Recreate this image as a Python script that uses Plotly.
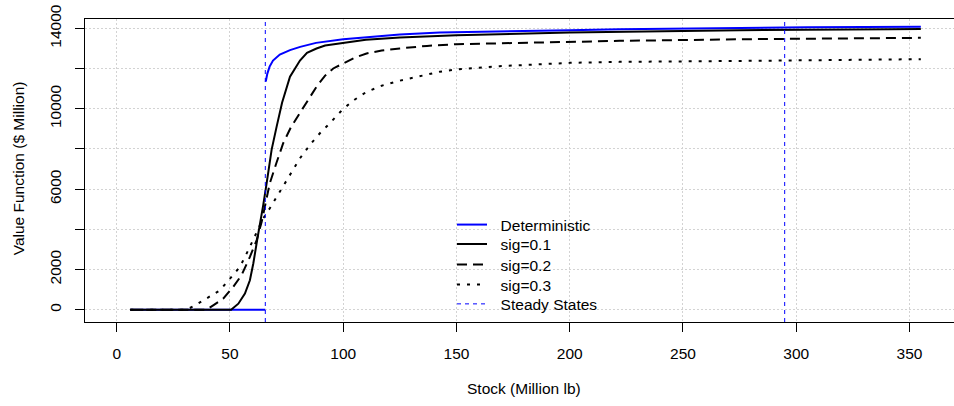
import plotly.graph_objects as go

# ---------------- data ----------------
stock_det = [6, 65.6, None, 65.8, 66.5, 67.5, 69, 72, 76.5, 81, 88, 100, 113, 125,
             142.6, 150, 175, 200, 222, 252, 305, 355]
value_det = [0, 0, None, 11350, 11750, 12100, 12400, 12700, 12920, 13080, 13280, 13460,
             13590, 13700, 13790, 13810, 13870, 13910, 13960, 14000, 14060, 14080]

stock_s1 = [6, 50.5, 53.7, 56.6, 58.8, 60.3, 62.0, 63.5, 64.7, 66.2, 68.4, 70.6, 73,
            76.5, 80.9, 84, 88.2, 92, 100, 110, 125, 150, 200, 232, 275, 341, 355]
value_s1 = [0, 0, 300, 800, 1465, 2300, 3465, 4380, 5215, 6300, 7965, 9110, 10300,
            11597, 12400, 12780, 13000, 13150, 13290, 13430, 13550, 13664, 13798, 13863,
            13913, 13963, 13966]

stock_s2 = [6, 39.7, 42.6, 47.0, 51.4, 55.1, 58.8, 61.8, 64.0, 65.4, 67.6, 70.5, 73.5,
            77, 81, 85, 88.5, 92, 95.6, 100, 105, 110.3, 117, 125, 137, 150, 200, 222,
            279.5, 355]
value_s2 = [0, 0, 215, 550, 1130, 1715, 2630, 3465, 4380, 5135, 6300, 7300, 8285,
            9100, 9800, 10500, 11150, 11650, 12006, 12255, 12540, 12753, 12900, 13002,
            13130, 13215, 13330, 13380, 13464, 13530]

stock_s3 = [6, 30.9, 35.3, 41.2, 45.6, 50.0, 54.4, 58.1, 61.8, 64.7, 67.6, 72.0, 76.5,
            81, 86, 90, 94.1, 100, 105, 110.3, 117, 125, 135, 142.6, 150, 169, 200, 222,
            279.5, 355]
value_s3 = [0, 0, 265, 665, 965, 1550, 2130, 2965, 3880, 4550, 5050, 5880, 6750,
            7550, 8300, 8820, 9280, 10000, 10450, 10841, 11150, 11400, 11650, 11845,
            11956, 12120, 12285, 12335, 12385, 12469]

steady_states = [65.6, 294.9]

x_ticks = [0, 50, 100, 150, 200, 250, 300, 350]
y_ticks = [0, 2000, 4000, 6000, 8000, 10000, 12000, 14000]
y_tick_labels = ["0", "2000", "", "6000", "", "10000", "", "14000"]

legend_labels = ["Deterministic", "sig=0.1", "sig=0.2", "sig=0.3", "Steady States"]

x_range = [-14.0, 369.65]
y_range = [-612, 14468]

# ---------------- figure ----------------
FONT = "Liberation Sans, Arial, sans-serif"
FS = 15.5
pad = "\u00a0\u00a0"

fig = go.Figure()
fig.add_trace(go.Scatter(x=stock_det, y=value_det, mode="lines", name=pad + legend_labels[0],
                         line=dict(color="#0000FF", width=2), connectgaps=False, legend="legend"))
fig.add_trace(go.Scatter(x=stock_s1, y=value_s1, mode="lines", name=pad + legend_labels[1],
                         line=dict(color="black", width=2), legend="legend2"))
fig.add_trace(go.Scatter(x=stock_s2, y=value_s2, mode="lines", name=pad + legend_labels[2],
                         line=dict(color="black", width=2, dash="10px,6px"), legend="legend3"))
fig.add_trace(go.Scatter(x=stock_s3, y=value_s3, mode="lines", name=pad + legend_labels[3],
                         line=dict(color="black", width=2, dash="3px,7px"), legend="legend4"))

ss_x, ss_y = [], []
for s in steady_states:
    ss_x += [s, s, None]
    ss_y += [y_range[0], y_range[1], None]
fig.add_trace(go.Scatter(x=ss_x, y=ss_y, mode="lines", name=pad + legend_labels[4],
                         line=dict(color="#0000FF", width=1, dash="4px,4px"),
                         connectgaps=False, legend="legend5"))

L, T, B = 85, 19, 84
W, H = 954, 406
plot_h = H - T - B
plot_w = W - L

def py(px):
    return (H - B - px) / plot_h

def pxx(px):
    return (px - L) / plot_w

leg_rows = [225, 244.3, 265, 285, 304.3]
leg_x = pxx(452)
legend_common = dict(xanchor="left", yanchor="middle", bgcolor="rgba(0,0,0,0)",
                     borderwidth=0, font=dict(family=FONT, size=FS, color="black"),
                     itemwidth=30, tracegroupgap=0)
legends = {}
for i, r in enumerate(leg_rows):
    key = "legend" if i == 0 else f"legend{i+1}"
    legends[key] = dict(x=leg_x, y=py(r), **legend_common)

axis_common = dict(showline=True, linecolor="black", linewidth=1,
                   ticks="outside", ticklen=9, tickcolor="black", tickwidth=1,
                   showgrid=True, gridcolor="#d3d3d3", griddash="2px,2px", gridwidth=1,
                   zeroline=False, tickfont=dict(family=FONT, size=FS, color="black"))

fig.update_layout(
    width=W, height=H,
    margin=dict(l=L, r=0, t=T, b=B, autoexpand=False),
    paper_bgcolor="white", plot_bgcolor="white",
    font=dict(family=FONT, size=FS, color="black"),
    xaxis=dict(range=x_range, tickvals=x_ticks, ticktext=[str(v) for v in x_ticks],
               mirror=True, ticklabelstandoff=8, **axis_common),
    yaxis=dict(range=y_range, tickvals=y_ticks, ticktext=y_tick_labels, tickangle=-90,
               mirror=False, ticklabelstandoff=8, **axis_common),
    annotations=[
        dict(text="Stock (Million lb)", xref="paper", yref="paper", x=pxx(523.5), y=py(388),
             xanchor="center", yanchor="middle", showarrow=False,
             font=dict(family=FONT, size=FS, color="black")),
        dict(text="Value Function ($ Million)", xref="paper", yref="paper", x=pxx(18.3), y=py(168),
             xanchor="center", yanchor="middle", showarrow=False, textangle=-90,
             font=dict(family=FONT, size=FS, color="black")),
    ],
    showlegend=True,
    **legends,
)

fig.write_html("out.html", config={"displayModeBar": False})
